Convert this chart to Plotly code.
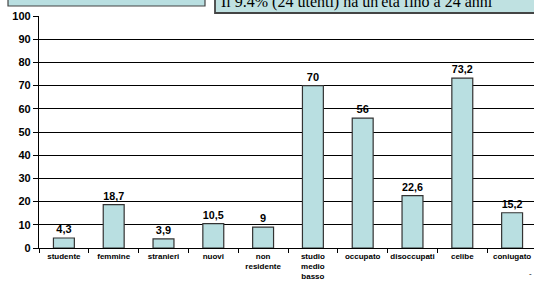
import plotly.graph_objects as go

categories = ["studente", "femmine", "stranieri", "nuovi", "non<br>residente",
              "studio<br>medio<br>basso", "occupato", "disoccupati", "celibe", "coniugato"]
values = [4.3, 18.7, 3.9, 10.5, 9, 70, 56, 22.6, 73.2, 15.2]
y_ticks = [0, 10, 20, 30, 40, 50, 60, 70, 80, 90, 100]
note_text = "Il 9.4% (24 utenti) ha un'età fino a 24 anni"

labels = [("%g" % v).replace(".", ",") for v in values]

L, T, B, W, H = 39, 16, 36, 534, 284
PW = W - L
PH = H - T - B

fig = go.Figure()
fig.add_trace(go.Bar(
    x=categories, y=values, text=labels, textposition="outside",
    textfont=dict(family="Arial, Liberation Sans", size=11, color="black", weight="bold"),
    marker=dict(color="#b9dfe1", line=dict(color="#333333", width=1.2)),
    width=0.42, cliponaxis=False, hoverinfo="skip",
))

fig.update_layout(
    width=W, height=H,
    margin=dict(l=L, r=0, t=T, b=B, autoexpand=False),
    paper_bgcolor="white", plot_bgcolor="white",
    showlegend=False,
    xaxis=dict(
        type="category", range=[-0.5, -0.5 + PW / 49.8],
        tickson="boundaries", ticks="outside", ticklen=4, tickcolor="black",
        showgrid=False, showline=True, linecolor="black", linewidth=1,
        tickfont=dict(family="Arial, Liberation Sans", size=8, color="black", weight="bold"),
        tickangle=0, automargin=False,
    ),
    yaxis=dict(
        range=[0, 100], tickvals=y_ticks,
        ticks="outside", ticklen=5, tickcolor="black",
        showgrid=True, gridcolor="black", gridwidth=1,
        showline=True, linecolor="black", linewidth=1.2,
        zeroline=False, automargin=False,
        tickfont=dict(family="Arial, Liberation Sans", size=11, color="black", weight="bold"),
    ),
    bargap=0.58,
)

def px_x(p):
    return (p - L) / float(PW)

def px_y(p):
    return (H - B - p) / float(PH)

# clipped boxes at the top
fig.add_shape(type="rect", xref="paper", yref="paper",
              x0=px_x(8), x1=px_x(205), y0=px_y(6), y1=px_y(-30),
              fillcolor="#b9dfe1", line=dict(color="#444444", width=1.2), layer="above")
fig.add_shape(type="rect", xref="paper", yref="paper",
              x0=px_x(215), x1=px_x(545), y0=px_y(13), y1=px_y(-30),
              fillcolor="#bfe1e1", line=dict(color="#444444", width=1.8), layer="above")
fig.add_annotation(xref="paper", yref="paper", x=px_x(219), y=px_y(1.5),
                   xanchor="left", yanchor="middle", showarrow=False,
                   text=note_text,
                   font=dict(family="Liberation Serif, Times New Roman", size=16, color="black"))
fig.add_annotation(xref="paper", yref="paper", x=px_x(530), y=px_y(273),
                   xanchor="center", yanchor="middle", showarrow=False,
                   text="-", font=dict(family="Arial", size=8, color="black"))

fig.write_html("out.html", config={"displayModeBar": False},
               post_script="document.body.style.margin='0';document.body.style.overflow='hidden';")
